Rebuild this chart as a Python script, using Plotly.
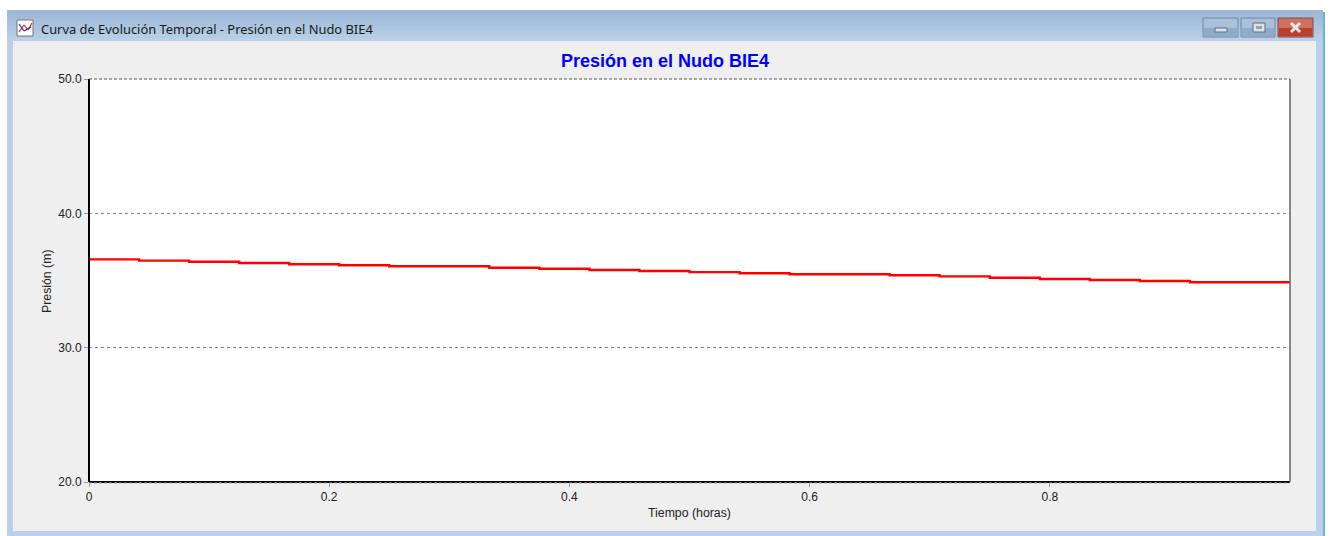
import plotly.graph_objects as go

hours = [0, 0.0417, 0.0833, 0.125, 0.1667, 0.2083, 0.25, 0.2917, 0.3333, 0.375, 0.4167, 0.4583,
         0.5, 0.5417, 0.5833, 0.625, 0.6667, 0.7083, 0.75, 0.7917, 0.8333, 0.875, 0.9167, 0.9583, 1.0]
pressure = [36.57, 36.48, 36.40, 36.30, 36.21, 36.13, 36.06, 36.06, 35.95, 35.88, 35.78, 35.71,
            35.62, 35.54, 35.46, 35.46, 35.39, 35.31, 35.21, 35.11, 35.04, 34.96, 34.87, 34.87, 34.87]
x_ticks = [0, 0.2, 0.4, 0.6, 0.8]
x_tick_labels = ["0", "0.2", "0.4", "0.6", "0.8"]
y_ticks = [20, 30, 40, 50]
window_title = "Curva de Evolución Temporal - Presión en el Nudo BIE4"
chart_title = "Presión en el Nudo BIE4"
x_title = "Tiempo (horas)"
y_title = "Presión (m)"

L, R, T, B = 89, 1290, 79, 482
W, H = 1330, 536


def px(v):
    return (v - L) / (R - L)


def py(v):
    return (B - v) / (B - T)


def rect(x0, y0, x1, y1, fill, line=None, layer="below", lw=1):
    return dict(type="rect", xref="paper", yref="paper", x0=px(x0), x1=px(x1), y0=py(y0), y1=py(y1),
                fillcolor=fill, line=dict(color=line or "rgba(0,0,0,0)", width=lw if line else 0), layer=layer)


def seg(x0, y0, x1, y1, color, lw=1, dash="solid", layer="above"):
    return dict(type="line", xref="paper", yref="paper", x0=px(x0), x1=px(x1), y0=py(y0), y1=py(y1),
                line=dict(color=color, width=lw, dash=dash), layer=layer)


shapes = []
# window frame
shapes.append(rect(7, 10, 1323, 536, "#b9d1ea"))
shapes.append(seg(1324, 12, 1324, 536, "#3a9fb0", 1.5, layer="below"))
bands = ["#9db9d6", "#a0bbd8", "#a4bedb", "#a8c1dd", "#acc5e0", "#b0c9e3", "#b4cce6", "#b8d0e9"]
for i, c in enumerate(bands):
    shapes.append(rect(7, 10 + i * 4, 1323, 14 + i * 4, c))
shapes.append(rect(13, 41, 1316, 531, "#efefef"))
shapes.append(rect(L, T, R, B, "#ffffff"))

# caption buttons
shapes.append(rect(1203, 18, 1238, 37, "#a9c0d9", "#7488a0"))
shapes.append(rect(1204, 28, 1237, 36, "#8fabc8"))
shapes.append(rect(1215, 28, 1227, 32, "#dfe3e8", "#5f6f80"))
shapes.append(rect(1241, 18, 1275, 37, "#a9c0d9", "#7488a0"))
shapes.append(rect(1242, 28, 1274, 36, "#8fabc8"))
shapes.append(rect(1253, 23, 1265, 32, "#dfe3e8", "#5f6f80", lw=1))
shapes.append(rect(1256, 26, 1262, 29, "#8fa3b8"))
shapes.append(rect(1278, 18, 1313, 37, "#d0705f", "#7a4c50"))
shapes.append(rect(1279, 28, 1312, 36, "#bb3f2c"))
shapes.append(seg(1291, 23, 1300, 32, "#e8e8e8", 3, layer="below"))
shapes.append(seg(1300, 23, 1291, 32, "#e8e8e8", 3, layer="below"))

# window icon
shapes.append(rect(17, 20, 33, 36, "#ffffff", "#777777"))
shapes.append(seg(19, 32, 24, 25, "#e02020", 1.2, layer="below"))
shapes.append(seg(24, 25, 28, 30, "#e02020", 1.2, layer="below"))
shapes.append(seg(28, 30, 32, 23, "#e02020", 1.2, layer="below"))
shapes.append(seg(19, 24, 24, 31, "#2030c0", 1.2, layer="below"))
shapes.append(seg(24, 31, 31, 27, "#2030c0", 1.2, layer="below"))

# plot frame over the grid
shapes.append(seg(89, T, 89, B, "#000000", 2))
shapes.append(seg(89, B, 1290, B, "#000000", 2))
shapes.append(seg(1290, T, 1290, B, "#666666", 1.5))
shapes.append(seg(89, T, 1290, T, "#555555", 1, "3px,2px"))
shapes.append(seg(89, B + 1, 1290, B + 1, "#aaaaaa", 1, "3px,2px"))

fig = go.Figure()
fig.add_trace(go.Scatter(x=hours, y=pressure, mode="lines", line=dict(color="#ff0000", width=2.4, shape="hv"),
                         hoverinfo="skip", showlegend=False))

font_tick = dict(family="Liberation Sans", size=12, color="#222222")
font_axis = dict(family="Liberation Sans", size=12.3, color="#222222")
fig.update_layout(
    width=W, height=H, autosize=False,
    margin=dict(l=L, r=W - R, t=T, b=H - B, pad=0),
    paper_bgcolor="#ffffff", plot_bgcolor="#ffffff",
    shapes=shapes,
    title=dict(text=chart_title, x=665 / W, xanchor="center", y=1 - 61 / H, yanchor="middle",
               font=dict(family="Liberation Sans", size=18, color="#0000ff", weight="bold")),
    xaxis=dict(range=[0, 1], tickvals=x_ticks, ticktext=x_tick_labels, ticks="outside", ticklen=4, tickcolor="#999999",
               tickfont=font_tick, showgrid=False, zeroline=False, showline=False, tickangle=0),
    yaxis=dict(range=[20, 50], tickvals=y_ticks, tickformat=".1f", ticks="outside", ticklen=4, tickcolor="#999999",
               tickfont=font_tick, showgrid=True, gridcolor="#808080", griddash="3px,3px", gridwidth=1,
               zeroline=False, showline=False),
    annotations=[
        dict(text=window_title, xref="paper", yref="paper", x=px(39), y=py(28.5), xanchor="left", yanchor="middle",
             showarrow=False, font=dict(family="Noto Sans", size=12.9, color="#1a1a1a")),
        dict(text=x_title, xref="paper", yref="paper", x=px(689), y=py(513), xanchor="center", yanchor="middle",
             showarrow=False, font=font_axis),
        dict(text=y_title, xref="paper", yref="paper", x=px(47), y=py(281), xanchor="center", yanchor="middle",
             textangle=-90, showarrow=False, font=font_axis),
    ],
)

fig.write_html("out.html", config={"displayModeBar": False},
               post_script="document.body.style.margin='0';document.body.style.overflow='hidden';")
